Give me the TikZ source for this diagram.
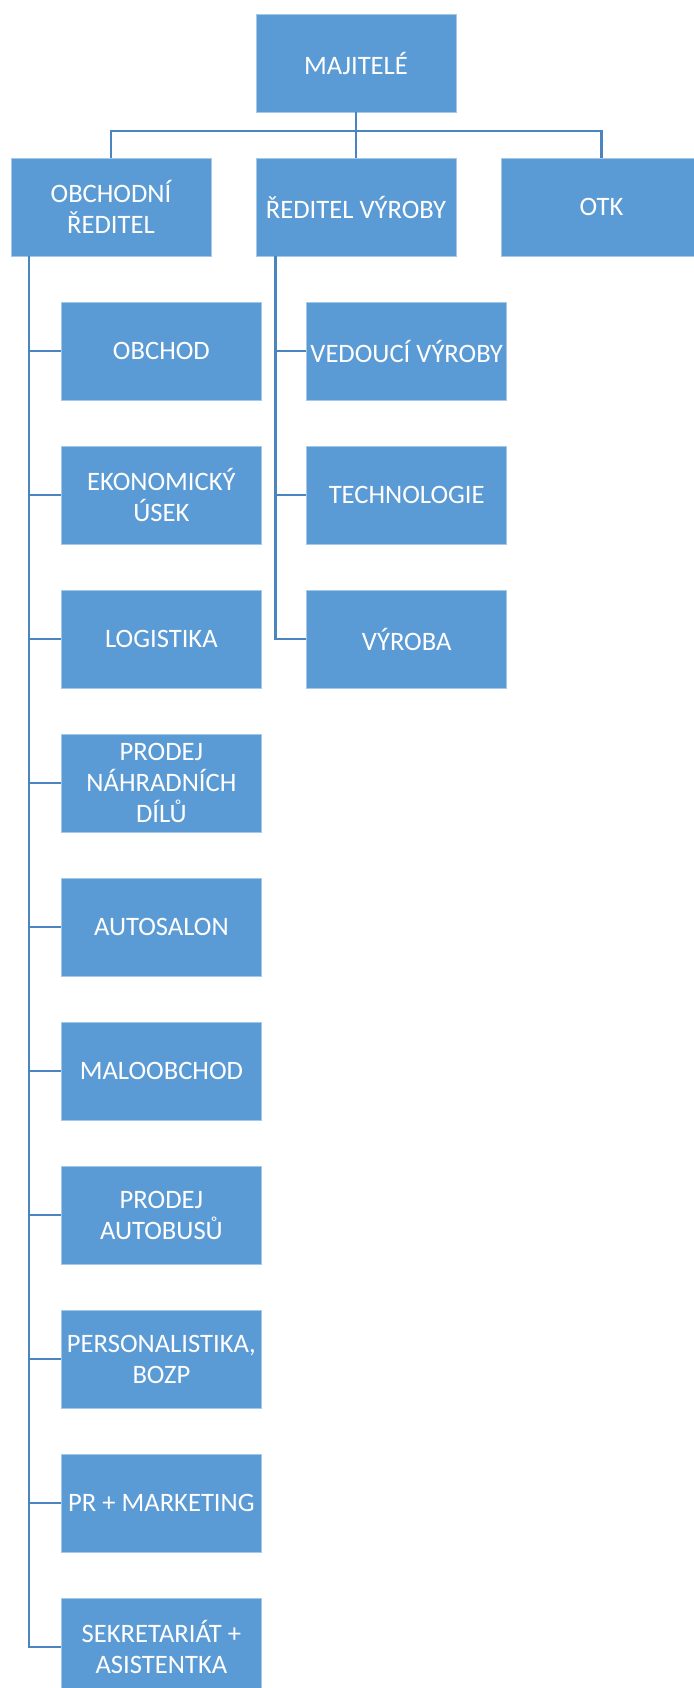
\documentclass[tikz,border=0pt]{standalone}
\usepackage{fontspec}
\setmainfont{Carlito}
\definecolor{boxblue}{HTML}{5B9BD5}
\definecolor{linkblue}{HTML}{4A85C0}
\tikzset{
  unit/.style={rectangle, fill=boxblue, draw=boxblue!55!white, line width=0.4pt,
    text=white, minimum width=100pt, minimum height=49pt, inner sep=1pt,
    align=center, font=\fontsize{13.3}{15.5}\selectfont},
  link/.style={draw=linkblue, line width=1.4pt}
}
\begin{document}
\begin{tikzpicture}[x=0.5pt,y=-0.5pt]
\useasboundingbox (0,0) rectangle (693,1688);

\node[unit] (maj) at (356,63) {MAJITELÉ};
\node[unit] (obchred) at (111,207) {OBCHODNÍ\\ŘEDITEL};
\node[unit] (redvyr) at (356,207) {ŘEDITEL VÝROBY};
\node[unit] (otk) at (601.5,207) {OTK};

% bus under the owners
\coordinate (bus) at (356,131);
\draw[link] (maj) -- (bus);
\draw[link] (obchred.north) |- (bus) -| (otk.north);
\draw[link] (bus) -- (redvyr.north);

% sales director's column
\coordinate (ltrunk) at ([xshift=9.2pt]obchred.south west);
\foreach \name/\txt [count=\i from 0] in {obchod/OBCHOD, ekon/{EKONOMICKÝ\\ÚSEK},
    logist/LOGISTIKA, nd/{PRODEJ\\NÁHRADNÍCH\\DÍLŮ}, autosal/AUTOSALON,
    malo/MALOOBCHOD, autobus/{PRODEJ\\AUTOBUSŮ}, pers/{PERSONALISTIKA,\\BOZP},
    prmark/PR + MARKETING, sekr/{SEKRETARIÁT +\\ASISTENTKA}}{
  \node[unit] (\name) at (161.4,{351+144*\i}) {\txt};
  \draw[link] (\name.west) -- (\name.west -| ltrunk);
}
\draw[link] (ltrunk) |- (sekr.west);

% production director's column
\coordinate (rtrunk) at ([xshift=9.75pt]redvyr.south west);
\foreach \name/\txt [count=\i from 0] in {vedvyr/VEDOUCÍ VÝROBY,
    techn/TECHNOLOGIE, vyroba/VÝROBA}{
  \node[unit] (\name) at (406.7,{351+144*\i}) {\txt};
  \draw[link] (\name.west) -- (\name.west -| rtrunk);
}
\draw[link] (rtrunk) |- (vyroba.west);
\end{tikzpicture}
\end{document}
